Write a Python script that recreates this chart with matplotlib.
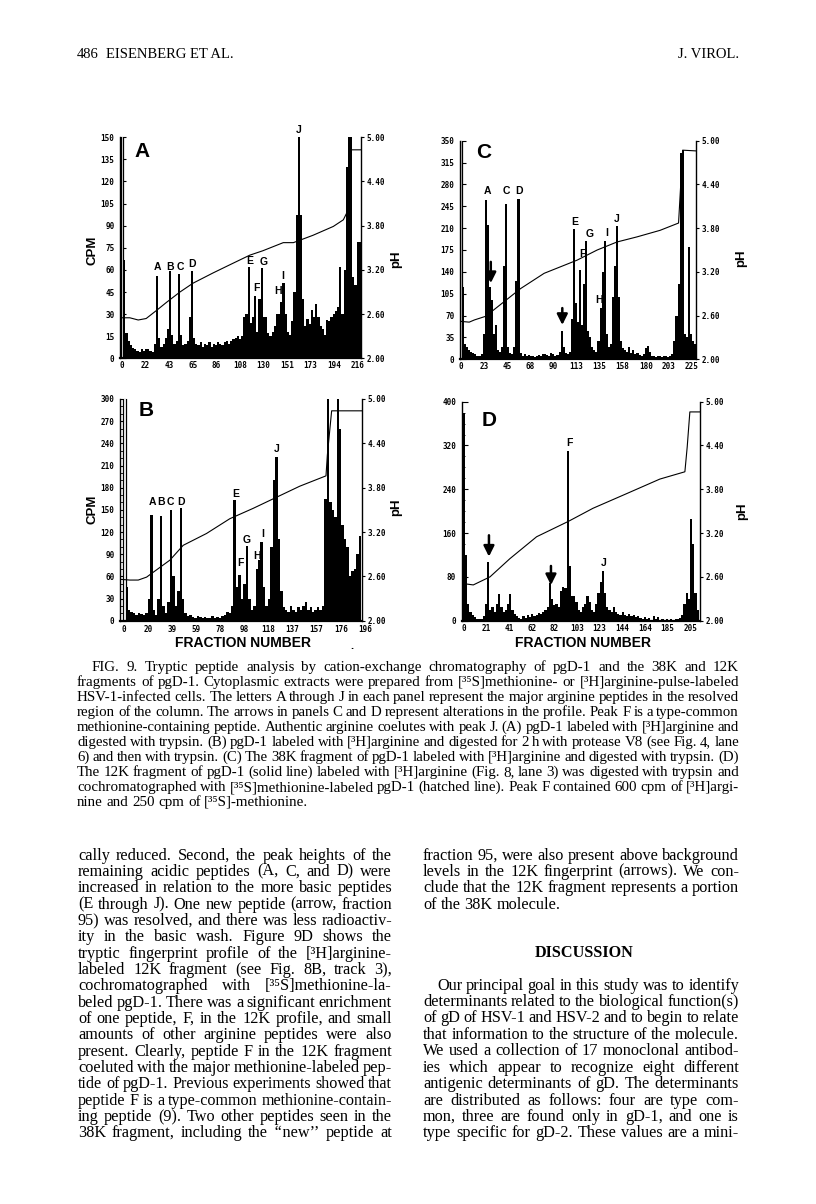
import numpy as np
import matplotlib
matplotlib.use("Agg")
import matplotlib.pyplot as plt
import matplotlib.transforms as mtransforms
from matplotlib.ticker import MultipleLocator

# ---------------------------------------------------------------- data
# CPM per pair of fractions (fraction 0, 2, 4, ...)
a_cpm = [160, 67, 17, 12, 9, 7, 6, 5, 4, 6, 5, 6, 6, 5, 4, 10, 56, 14, 8, 10,
         14, 20, 59, 16, 10, 12, 57, 16, 9, 10, 12, 28, 59, 14, 10, 9, 11, 8, 10, 9,
         11, 8, 10, 9, 11, 10, 9, 11, 12, 10, 12, 13, 14, 15, 13, 15, 28, 30, 62, 24,
         28, 42, 18, 40, 61, 28, 28, 17, 15, 18, 22, 30, 30, 38, 51, 30, 18, 16, 25, 45,
         97, 160, 97, 40, 22, 27, 23, 33, 28, 37, 28, 22, 20, 16, 26, 25, 28, 30, 32, 35,
         62, 30, 60, 130, 160, 150, 55, 50, 79, 79]
a_ph_frac = [-2, 7, 14.7, 22, 31.5, 40.7, 53, 65, 83.5, 98.8, 117, 129, 147.7, 157, 175, 193.6, 202.8, 205.8, 209.5, 219]
a_ph = [2.55, 2.55, 2.52, 2.54, 2.65, 2.76, 2.90, 3.02, 3.16, 3.27, 3.40, 3.46, 3.57, 3.57, 3.67, 3.79, 3.88, 3.97, 4.83, 4.83]
a_xticklabels = ['0', '22', '43', '65', '86', '108', '130', '151', '173', '194', '216']
a_peak_names = ['A', 'B', 'C', 'D', 'E', 'F', 'G', 'H', 'I', 'J']
a_peak_frac = [32, 43.5, 53, 64, 117, 123.5, 130, 142.5, 147, 162]
a_peak_cpm = [62, 62, 62, 64, 66, 47.5, 65.6, 45.7, 56, 155]

c_cpm = [360, 115, 25, 20, 15, 12, 10, 8, 6, 5, 8, 40, 255, 215, 115, 95, 40, 55, 15, 12,
         20, 150, 249, 20, 10, 8, 20, 125, 257, 10, 6, 8, 5, 7, 5, 6, 4, 5, 7, 6,
         8, 9, 7, 6, 10, 8, 5, 7, 12, 45, 20, 10, 8, 12, 65, 208, 90, 60, 143, 55,
         120, 189, 45, 35, 20, 15, 12, 30, 82, 140, 190, 40, 20, 25, 100, 150, 213, 100, 30, 18,
         15, 12, 20, 10, 15, 8, 10, 7, 5, 8, 18, 22, 12, 6, 5, 4, 6, 5, 4, 6,
         5, 4, 5, 8, 30, 70, 120, 330, 335, 40, 35, 180, 40, 30, 25]
c_ph_frac = [0, 8, 13, 24, 43.7, 58, 81, 97, 113, 132.7, 152, 171.5, 194, 212, 216, 229]
c_ph = [2.52, 2.51, 2.54, 2.59, 2.81, 2.97, 3.18, 3.27, 3.36, 3.50, 3.61, 3.68, 3.77, 3.87, 4.87, 4.86]
c_xticklabels = ['0', '23', '45', '68', '90', '113', '135', '158', '180', '203', '225']
c_peak_names = ['A', 'C', 'D', 'E', 'F', 'G', 'H', 'I', 'J']
c_peak_frac = [26, 43.7, 56.6, 111, 118, 125, 135, 141.7, 152]
c_peak_cpm = [270, 270, 270, 220, 169, 200, 95, 202, 224]
c_arrow_frac = [29, 98.7]
c_arrow_tail = [156, 82]
c_arrow_head = [122, 55]

b_cpm = [310, 45, 15, 12, 10, 8, 10, 9, 8, 10, 30, 143, 15, 8, 30, 142, 20, 10, 25, 150,
         60, 20, 40, 152, 30, 10, 6, 8, 5, 4, 6, 5, 4, 5, 3, 4, 6, 3, 5, 4,
         6, 8, 12, 10, 20, 163, 45, 62, 30, 50, 101, 30, 15, 20, 70, 82, 107, 45, 20, 30,
         100, 190, 222, 110, 40, 18, 15, 12, 20, 15, 12, 18, 15, 20, 25, 15, 18, 12, 15, 18,
         15, 20, 165, 310, 160, 150, 140, 310, 260, 130, 110, 100, 60, 67, 70, 90, 115]
b_ph_frac = [-3.5, 4.6, 11.4, 18.2, 22.3, 37.2, 48, 67, 86, 105, 124, 143, 164.4, 165.5, 169, 193.5]
b_ph = [2.56, 2.55, 2.55, 2.59, 2.64, 2.82, 3.02, 3.18, 3.38, 3.52, 3.67, 3.82, 3.96, 4.24, 4.84, 4.84]
b_xticklabels = ['0', '20', '39', '59', '78', '98', '118', '137', '157', '176', '196']
b_peak_names = ['A', 'B', 'C', 'D', 'E', 'F', 'G', 'H', 'I', 'J']
b_peak_frac = [22.8, 29.6, 37.2, 46.5, 91, 94.3, 99.7, 108, 112.8, 124]
b_peak_cpm = [160, 160, 160, 160, 172, 78, 109, 87, 117, 232]

d_cpm = [380, 120, 30, 15, 10, 6, 4, 3, 4, 8, 30, 108, 20, 25, 15, 30, 48, 25, 15, 20,
         30, 48, 20, 12, 8, 5, 3, 8, 5, 10, 6, 12, 8, 10, 14, 12, 15, 20, 25, 68,
         40, 28, 30, 25, 55, 62, 60, 310, 100, 45, 45, 35, 20, 15, 25, 30, 45, 35, 20, 15,
         30, 50, 70, 90, 50, 25, 20, 15, 25, 15, 12, 10, 15, 10, 8, 12, 8, 10, 6, 8,
         5, 4, 6, 3, 5, 2, 8, 3, 6, 2, 3, 2, 4, 2, 3, 2, 3, 4, 5, 10,
         30, 50, 40, 185, 140, 50, 20]
d_ph_frac = [-1.2, 8.5, 23.6, 41.7, 65.9, 94.6, 117, 147.4, 177.6, 200.3, 202.4, 204.8, 214]
d_ph = [2.51, 2.49, 2.60, 2.85, 3.15, 3.36, 3.54, 3.74, 3.94, 4.04, 4.38, 4.86, 4.86]
d_xticklabels = ['0', '21', '41', '62', '82', '103', '123', '144', '164', '185', '205']
d_peak_names = ['F', 'J']
d_peak_frac = [95.5, 127]
d_peak_cpm = [325, 105]
d_arrow_frac = [22.7, 78.9]
d_arrow_tail = [156, 100]
d_arrow_head = [117, 65]

ph_ticks = [2.00, 2.60, 3.20, 3.80, 4.40, 5.00]

header_left = ['486', 'EISENBERG ET AL.']
header_right = 'J. VIROL.'

caption_lines = [
    "FIG. 9. Tryptic peptide analysis by cation-exchange chromatography of pgD-1 and the 38K and 12K",
    "fragments of pgD-1. Cytoplasmic extracts were prepared from [\u00b3\u2075S]methionine- or [\u00b3H]arginine-pulse-labeled",
    "HSV-1-infected cells. The letters A through J in each panel represent the major arginine peptides in the resolved",
    "region of the column. The arrows in panels C and D represent alterations in the profile. Peak F is a type-common",
    "methionine-containing peptide. Authentic arginine coelutes with peak J. (A) pgD-1 labeled with [\u00b3H]arginine and",
    "digested with trypsin. (B) pgD-1 labeled with [\u00b3H]arginine and digested for 2 h with protease V8 (see Fig. 4, lane",
    "6) and then with trypsin. (C) The 38K fragment of pgD-1 labeled with [\u00b3H]arginine and digested with trypsin. (D)",
    "The 12K fragment of pgD-1 (solid line) labeled with [\u00b3H]arginine (Fig. 8, lane 3) was digested with trypsin and",
    "cochromatographed with [\u00b3\u2075S]methionine-labeled pgD-1 (hatched line). Peak F contained 600 cpm of [\u00b3H]argi-",
    "nine and 250 cpm of [\u00b3\u2075S]-methionine.",
]

left_col = [
    "cally reduced. Second, the peak heights of the",
    "remaining acidic peptides (A, C, and D) were",
    "increased in relation to the more basic peptides",
    "(E through J). One new peptide (arrow, fraction",
    "95) was resolved, and there was less radioactiv-",
    "ity in the basic wash. Figure 9D shows the",
    "tryptic fingerprint profile of the [\u00b3H]arginine-",
    "labeled 12K fragment (see Fig. 8B, track 3),",
    "cochromatographed with [\u00b3\u2075S]methionine-la-",
    "beled pgD-1. There was a significant enrichment",
    "of one peptide, F, in the 12K profile, and small",
    "amounts of other arginine peptides were also",
    "present. Clearly, peptide F in the 12K fragment",
    "coeluted with the major methionine-labeled pep-",
    "tide of pgD-1. Previous experiments showed that",
    "peptide F is a type-common methionine-contain-",
    "ing peptide (9). Two other peptides seen in the",
    "38K fragment, including the \u2018\u2018new\u2019\u2019 peptide at",
]

right_col_top = [
    "fraction 95, were also present above background",
    "levels in the 12K fingerprint (arrows). We con-",
    "clude that the 12K fragment represents a portion",
    "of the 38K molecule.",
]
discussion_title = "DISCUSSION"
right_col_bottom = [
    "Our principal goal in this study was to identify",
    "determinants related to the biological function(s)",
    "of gD of HSV-1 and HSV-2 and to begin to relate",
    "that information to the structure of the molecule.",
    "We used a collection of 17 monoclonal antibod-",
    "ies which appear to recognize eight different",
    "antigenic determinants of gD. The determinants",
    "are distributed as follows: four are type com-",
    "mon, three are found only in gD-1, and one is",
    "type specific for gD-2. These values are a mini-",
]

# ---------------------------------------------------------------- figure
W, H = 816, 1204
fig = plt.figure(figsize=(W / 100, H / 100), dpi=100)
R = fig.canvas.get_renderer()

SERIF = ['Liberation Serif', 'DejaVu Serif']
SANS = 'Liberation Sans'
MONO = 'DejaVu Sans Mono'


def px_rect(l, t, r, b):
    return [l / W, 1 - b / H, (r - l) / W, (b - t) / H]


def ftext(x, y, s, **kw):
    return fig.text(x / W, 1 - y / H, s, **kw)


def draw_panel(box, cpm, ymax, ystep, yminor, xlim, xlabels, xlast,
               ph_x, ph_y, letter, letter_xy, pk_names, pk_x, pk_y,
               arrows=None, lab_off=-0.03, hollow_first=True):
    ax = fig.add_axes(px_rect(*box))
    frac = np.arange(len(cpm)) * 2
    bars = ax.bar(frac, cpm, width=2.0, color='black', linewidth=0, zorder=2)
    if hollow_first:
        bars[0].set_facecolor('white')
        bars[0].set_edgecolor('black')
        bars[0].set_linewidth(0.9)
    ax.set_xlim(*xlim)
    ax.set_ylim(0, ymax)
    yt = np.arange(0, ymax + 0.1, ystep)
    ax.set_yticks(yt)
    ax.set_yticklabels([f'{v:g}' for v in yt])
    ax.yaxis.set_minor_locator(MultipleLocator(yminor))
    ax.tick_params(axis='y', which='major', direction='in', length=4, width=0.8, pad=4, labelsize=5.5)
    ax.tick_params(axis='y', which='minor', direction='in', length=2.5, width=0.6)
    for lab in ax.get_yticklabels():
        lab.set_fontfamily(MONO)
        lab.set_fontweight('bold')
    ax.set_xticks([])
    for s in ['top', 'right']:
        ax.spines[s].set_visible(False)
    ax.spines['left'].set_linewidth(1.0)
    ax.spines['bottom'].set_linewidth(1.6)
    trans = mtransforms.blended_transform_factory(ax.transData, ax.transAxes)
    for pos, lab in zip(np.linspace(0, xlast, len(xlabels)), xlabels):
        ax.text(pos, lab_off, lab, transform=trans, ha='center', va='center',
                fontsize=5.5, family=MONO, weight='bold', clip_on=False)
    ax2 = ax.twinx()
    ax2.set_ylim(2, 5)
    ax2.set_yticks(ph_ticks)
    ax2.set_yticklabels([f'{v:.2f}' for v in ph_ticks])
    ax2.tick_params(axis='y', direction='out', length=2.5, width=0.8, pad=1.5, labelsize=5.5)
    for lab in ax2.get_yticklabels():
        lab.set_fontfamily(MONO)
        lab.set_fontweight('bold')
    ax2.plot(ph_x, ph_y, color='black', lw=0.8, zorder=3)
    for s in ['top', 'left', 'bottom']:
        ax2.spines[s].set_visible(False)
    ax2.spines['right'].set_linewidth(1.0)
    ax.text(letter_xy[0], letter_xy[1], letter, transform=ax.transAxes, ha='center', va='center',
            fontsize=15, family=SANS, weight='bold')
    for n, x, y in zip(pk_names, pk_x, pk_y):
        ax.text(x, y, n, ha='center', va='center', fontsize=7.5, family=SANS,
                weight='bold', clip_on=False, zorder=5)
    if arrows is not None:
        for x, yt0, yh in zip(*arrows):
            ax.annotate('', xy=(x, yh), xytext=(x, yt0),
                        arrowprops=dict(arrowstyle='-|>,head_width=0.35,head_length=0.7',
                                        lw=1.8, color='black', shrinkA=0, shrinkB=0,
                                        mutation_scale=9), zorder=6)
    return ax


draw_panel((120, 137.3, 361, 358.3), a_cpm, 150, 15, 5, (-2, 219), a_xticklabels, 216,
           a_ph_frac, a_ph, 'A', (0.09, 0.935), a_peak_names, a_peak_frac, a_peak_cpm,
           lab_off=-0.032)
draw_panel((460, 140.7, 696, 359.3), c_cpm, 350, 35, 35, (-1, 229), c_xticklabels, 225,
           c_ph_frac, c_ph, 'C', (0.10, 0.945), c_peak_names, c_peak_frac, c_peak_cpm,
           arrows=(c_arrow_frac, c_arrow_tail, c_arrow_head), lab_off=-0.032)
draw_panel((120, 399, 361.7, 620.7), b_cpm, 300, 30, 10, (-3.5, 193.5), b_xticklabels, 196,
           b_ph_frac, b_ph, 'B', (0.107, 0.95), b_peak_names, b_peak_frac, b_peak_cpm,
           lab_off=-0.038)
draw_panel((461.7, 401.7, 700, 620.7), d_cpm, 400, 80, 20, (-2, 214), d_xticklabels, 205,
           d_ph_frac, d_ph, 'D', (0.113, 0.915), d_peak_names, d_peak_frac, d_peak_cpm,
           arrows=(d_arrow_frac, d_arrow_tail, d_arrow_head), lab_off=-0.034,
           hollow_first=False)

for (x, y) in [(92, 250), (92, 509)]:
    ftext(x, y, 'CPM', rotation=90, ha='center', va='center', fontsize=9.5, family=SANS, weight='bold')
for (x, y) in [(396, 259), (741, 258), (396, 507), (742, 511)]:
    ftext(x, y, 'pH', rotation=90, ha='center', va='center', fontsize=9.5, family=SANS, weight='bold')
for x in (243, 583):
    ftext(x, 643, 'FRACTION NUMBER', ha='center', va='center', fontsize=10, family=SANS, weight='bold')
ftext(352, 646, '.', ha='center', va='center', fontsize=8, family=SANS, weight='bold')


# ---------------------------------------------------------------- text helpers
def natural_width(s, size, weight='normal'):
    t = fig.text(0, 0, s, fontsize=size, family=SERIF, weight=weight)
    w = t.get_window_extent(renderer=R).width
    t.remove()
    return w


def place_line(text, x0, x1, yb, size, justify=True, weight='normal'):
    words = text.split(' ')
    objs = [fig.text(0, 0, w, fontsize=size, family=SERIF, weight=weight,
                     va='baseline', ha='left') for w in words]
    widths = [o.get_window_extent(renderer=R).width for o in objs]
    space = 0.25 * size * 100 / 72
    n = len(words)
    if justify and n > 1:
        min_gap = 0.2 * size * 100 / 72
        avail = x1 - x0
        if avail - sum(widths) < min_gap * (n - 1):
            scale = (avail - min_gap * (n - 1)) / sum(widths)
            size = size * scale
            for o in objs:
                o.set_fontsize(size)
            widths = [o.get_window_extent(renderer=R).width for o in objs]
        gap = (avail - sum(widths)) / (n - 1)
    else:
        gap = space
    x = x0
    for o, w in zip(objs, widths):
        o.set_position((x / W, 1 - yb / H))
        x += w + gap


body_fs = 0.96 * 10 * 142 / natural_width('of the 38K molecule.', 10)
cap_fs = 10 * 231 / natural_width('nine and 250 cpm of [\u00b3\u2075S]-methionine.', 10)

# header
ftext(77, 54, header_left[0], ha='left', va='center', fontsize=10.5, family=SERIF)
ftext(106, 54, header_left[1], ha='left', va='center', fontsize=10.5, family=SERIF)
ftext(739, 54, header_right, ha='right', va='center', fontsize=10.5, family=SERIF)

# caption
L, RGT = 77, 739
for i, line in enumerate(caption_lines):
    x0 = 92 if i == 0 else L
    place_line(line, x0, RGT, 671 + 15.0 * i, cap_fs, justify=(i < len(caption_lines) - 1))

# body columns
LC0, LC1 = 78, 392
RC0, RC1 = 423, 739
for i, line in enumerate(left_col):
    place_line(line, LC0, LC1, 859.5 + 16.35 * i, body_fs, justify=True)
for i, line in enumerate(right_col_top):
    place_line(line, RC0, RC1, 859.5 + 16.35 * i, body_fs, justify=(i < len(right_col_top) - 1))
ftext((RC0 + RC1) / 2 + 3, 957, discussion_title, ha='center', va='baseline',
      fontsize=body_fs, family=SERIF, weight='bold')
for i, line in enumerate(right_col_bottom):
    x0 = RC0 + 14 if i == 0 else RC0
    place_line(line, x0, RC1, 989.5 + 16.44 * i, body_fs, justify=True)

fig.savefig('out.png', dpi=100)
